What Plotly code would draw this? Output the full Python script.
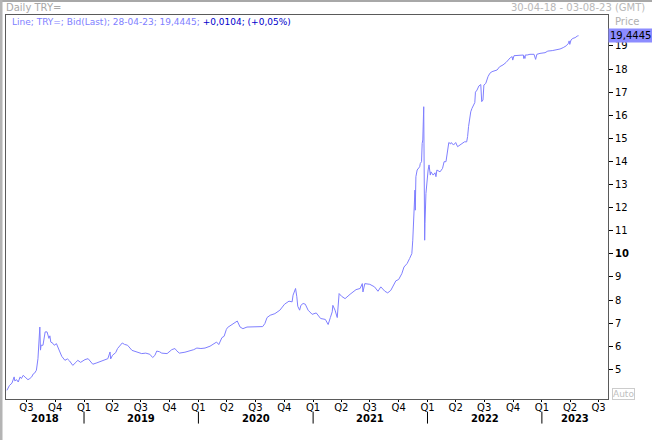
import plotly.graph_objects as go
from datetime import date, timedelta

# ---- data ----
dates = [
    "2018-04-30", "2018-05-08", "2018-05-16", "2018-05-23", "2018-05-25", "2018-05-31",
    "2018-06-05", "2018-06-11", "2018-06-15", "2018-06-21", "2018-06-27", "2018-07-06",
    "2018-07-12", "2018-07-18", "2018-07-23", "2018-07-27", "2018-08-02", "2018-08-07",
    "2018-08-13", "2018-08-15", "2018-08-17", "2018-08-23", "2018-08-30", "2018-09-05",
    "2018-09-11", "2018-09-14", "2018-09-17", "2018-09-24", "2018-09-28", "2018-10-05",
    "2018-10-16", "2018-10-22", "2018-11-01", "2018-11-09", "2018-11-16", "2018-11-26",
    "2018-12-06", "2018-12-12", "2018-12-21", "2019-01-04", "2019-01-14", "2019-01-29",
    "2019-02-11", "2019-02-20", "2019-03-05", "2019-03-18", "2019-03-25", "2019-03-27",
    "2019-04-02", "2019-04-12", "2019-04-18", "2019-04-25", "2019-05-03", "2019-05-10",
    "2019-05-20", "2019-06-03", "2019-06-18", "2019-07-04", "2019-07-17", "2019-07-30",
    "2019-08-08", "2019-08-15", "2019-08-21", "2019-08-30", "2019-09-06", "2019-09-23",
    "2019-10-08", "2019-10-18", "2019-10-24", "2019-11-01", "2019-11-19", "2019-12-05",
    "2019-12-17", "2019-12-27", "2020-01-09", "2020-01-22", "2020-02-07", "2020-02-28",
    "2020-03-06", "2020-03-16", "2020-03-23", "2020-03-30", "2020-04-03", "2020-04-14",
    "2020-04-23", "2020-05-04", "2020-05-13", "2020-05-22", "2020-06-04", "2020-06-12",
    "2020-07-24", "2020-07-31", "2020-08-07", "2020-08-17", "2020-09-01", "2020-09-17",
    "2020-10-02", "2020-10-16", "2020-10-26", "2020-10-29", "2020-11-04", "2020-11-06",
    "2020-11-10", "2020-11-13", "2020-11-19", "2020-11-23", "2020-11-30", "2020-12-07",
    "2020-12-16", "2020-12-29", "2021-01-11", "2021-01-25", "2021-02-09", "2021-02-15",
    "2021-02-18", "2021-02-25", "2021-03-03", "2021-03-05", "2021-03-12", "2021-03-19",
    "2021-03-22", "2021-03-25", "2021-04-02", "2021-04-13", "2021-04-29", "2021-05-07",
    "2021-05-18", "2021-05-31", "2021-06-07", "2021-06-09", "2021-06-15", "2021-07-01",
    "2021-07-16", "2021-07-27", "2021-08-05", "2021-08-18", "2021-08-27", "2021-09-06",
    "2021-09-16", "2021-09-22", "2021-10-01", "2021-10-11", "2021-10-18", "2021-10-28",
    "2021-11-05", "2021-11-12", "2021-11-15", "2021-11-18", "2021-11-22", "2021-11-23",
    "2021-11-25", "2021-11-29", "2021-12-02", "2021-12-07", "2021-12-09", "2021-12-13",
    "2021-12-15", "2021-12-17", "2021-12-20", "2021-12-21", "2021-12-22", "2021-12-23",
    "2021-12-24", "2021-12-27", "2021-12-30", "2022-01-03", "2022-01-06", "2022-01-10",
    "2022-01-12", "2022-01-19", "2022-01-25", "2022-01-28", "2022-01-31", "2022-02-10",
    "2022-02-18", "2022-02-23", "2022-03-01", "2022-03-04", "2022-03-07", "2022-03-10",
    "2022-03-16", "2022-03-18", "2022-03-25", "2022-04-01", "2022-04-07", "2022-04-14",
    "2022-04-22", "2022-04-29", "2022-05-06", "2022-05-09", "2022-05-12", "2022-05-16",
    "2022-05-19", "2022-05-23", "2022-05-30", "2022-06-01", "2022-06-03", "2022-06-08",
    "2022-06-14", "2022-06-20", "2022-06-23", "2022-06-27", "2022-06-30", "2022-07-06",
    "2022-07-13", "2022-07-19", "2022-07-26", "2022-08-04", "2022-08-11", "2022-08-19",
    "2022-08-30", "2022-09-09", "2022-09-15", "2022-09-22", "2022-09-28", "2022-09-30",
    "2022-10-04", "2022-10-14", "2022-10-24", "2022-10-31", "2022-11-03", "2022-11-04",
    "2022-11-07", "2022-11-08", "2022-11-09", "2022-11-15", "2022-11-24", "2022-12-07",
    "2022-12-12", "2022-12-16", "2022-12-26", "2023-01-11", "2023-01-20", "2023-02-03",
    "2023-02-15", "2023-02-28", "2023-03-10", "2023-03-20", "2023-03-27", "2023-03-29",
    "2023-03-31", "2023-04-04", "2023-04-10", "2023-04-17", "2023-04-24", "2023-04-28",
]
values = [
    4.09, 4.30, 4.40, 4.67, 4.50, 4.55,
    4.45, 4.67, 4.60, 4.74, 4.66, 4.55,
    4.60, 4.67, 4.80, 4.83, 4.96, 5.46,
    6.83, 5.83, 6.04, 6.04, 6.62, 6.62,
    6.34, 6.45, 6.18, 6.12, 6.04, 6.11,
    5.75, 5.56, 5.39, 5.45, 5.36, 5.17,
    5.30, 5.39, 5.30, 5.42, 5.46, 5.22,
    5.28, 5.32, 5.40, 5.46, 5.75, 5.45,
    5.61, 5.72, 5.90, 6.00, 6.14, 6.08,
    6.04, 5.82, 5.75, 5.68, 5.70, 5.65,
    5.51, 5.60, 5.79, 5.76, 5.70, 5.68,
    5.85, 5.90, 5.80, 5.70, 5.74, 5.79,
    5.85, 5.92, 5.90, 5.92, 6.00, 6.18,
    6.07, 6.37, 6.43, 6.72, 6.81, 6.91,
    6.98, 7.09, 6.83, 6.76, 6.83, 6.83,
    6.85, 6.98, 7.24, 7.34, 7.41, 7.56,
    7.82, 7.95, 7.92, 8.21, 8.42, 8.50,
    8.14, 7.73, 7.56, 7.77, 7.85, 7.82,
    7.56, 7.38, 7.44, 7.20, 7.16, 6.98,
    6.94, 7.24, 7.49, 7.77, 7.56, 7.24,
    7.92, 8.28, 8.16, 8.06, 8.25, 8.35,
    8.45, 8.50, 8.71, 8.35, 8.71, 8.68,
    8.57, 8.38, 8.57, 8.38, 8.31, 8.42,
    8.64, 8.83, 8.89, 9.14, 9.43, 9.58,
    9.80, 10.01, 10.59, 11.31, 12.76, 11.89,
    13.34, 13.63, 13.70, 13.77, 13.91, 13.99,
    14.78, 14.93, 16.37, 14.90, 12.04, 10.59,
    11.31, 12.61, 13.20, 13.63, 13.85, 13.41,
    13.55, 13.41, 13.51, 13.34, 13.63, 13.55,
    13.70, 13.99, 13.99, 14.28, 14.64, 14.82,
    14.76, 14.82, 14.71, 14.82, 14.64, 14.71,
    14.76, 14.85, 14.85, 15.08, 15.51, 15.91,
    16.15, 16.30, 16.52, 16.55, 17.00, 17.09,
    17.27, 17.33, 16.59, 16.66, 17.31, 17.38,
    17.67, 17.82, 17.89, 17.93, 17.96, 18.10,
    18.18, 18.29, 18.39, 18.49, 18.54, 18.39,
    18.58, 18.58, 18.61, 18.58, 18.61, 18.46,
    18.55, 18.46, 18.61, 18.61, 18.64, 18.64,
    18.42, 18.64, 18.68, 18.71, 18.78, 18.80,
    18.83, 18.87, 18.93, 19.01, 19.12, 19.22,
    19.07, 19.26, 19.33, 19.36, 19.43, 19.4445,
]

quarter_ticks = [
    "2018-07-01", "2018-10-01",
    "2019-01-01", "2019-04-01", "2019-07-01", "2019-10-01",
    "2020-01-01", "2020-04-01", "2020-07-01", "2020-10-01",
    "2021-01-01", "2021-04-01", "2021-07-01", "2021-10-01",
    "2022-01-01", "2022-04-01", "2022-07-01", "2022-10-01",
    "2023-01-01", "2023-04-01", "2023-07-01",
]
quarter_labels = [
    "Q3", "Q4",
    "Q1", "Q2", "Q3", "Q4",
    "Q1", "Q2", "Q3", "Q4",
    "Q1", "Q2", "Q3", "Q4",
    "Q1", "Q2", "Q3", "Q4",
    "Q1", "Q2", "Q3",
]
years = [2018, 2019, 2020, 2021, 2022, 2023]
price_ticks = [5, 6, 7, 8, 9, 10, 11, 12, 13, 14, 15, 16, 17, 18, 19]
price_labels = [("<b>%d</b>" % v) if v == 10 else str(v) for v in price_ticks]
x_range = ["2018-04-27", "2023-07-31"]
y_range = [3.714, 20.342]

last_value_text = "19,4445"
header_text = "Daily TRY="
period_text = "30-04-18 - 03-08-23 (GMT)"
legend_main = "Line; TRY=; Bid(Last); 28-04-23; 19,4445; "
legend_change = "+0,0104; (+0,05%)"

LINE_COLOR = "#7f7fff"
FONT = "DejaVu Sans"

fig = go.Figure()
fig.add_trace(go.Scatter(
    x=dates, y=values, mode="lines",
    line=dict(color=LINE_COLOR, width=1),
    hoverinfo="skip", showlegend=False,
))

# year separators and centred year labels
r0 = date.fromisoformat(x_range[0])
r1 = date.fromisoformat(x_range[1])
shapes = []
annotations = []
for yr in years:
    start = max(r0, date(yr, 1, 1))
    end = min(r1, date(yr + 1, 1, 1))
    mid = start + (end - start) / 2
    annotations.append(dict(
        x=mid.isoformat(), xref="x", y=-0.05, yref="paper",
        text="<b>%d</b>" % yr, showarrow=False,
        font=dict(family=FONT, size=10, color="#000000"),
        xanchor="center", yanchor="middle",
    ))
    if yr != years[0]:
        shapes.append(dict(
            type="line", xref="x", yref="paper",
            x0=date(yr, 1, 1).isoformat(), x1=date(yr, 1, 1).isoformat(),
            y0=-0.033, y1=-0.064,
            line=dict(color="#000000", width=1),
        ))

# outer window frame (light grey)
shapes.append(dict(type="line", xref="paper", yref="paper",
                   x0=-0.02, x1=1.1, y0=1.0365, y1=1.0365,
                   line=dict(color="#a8a8a8", width=2)))
shapes.append(dict(type="line", xref="paper", yref="paper",
                   x0=-0.0083, x1=-0.0083, y0=-0.12, y1=1.04,
                   line=dict(color="#b4b4b4", width=3)))

# texts
annotations += [
    dict(x=-0.0033, y=1.0208, xref="paper", yref="paper", text=header_text,
         showarrow=False, xanchor="left", yanchor="middle",
         font=dict(family=FONT, size=10, color="#a8a8a8")),
    dict(x=1.0648, y=1.0185, xref="paper", yref="paper", text=period_text,
         showarrow=False, xanchor="right", yanchor="middle",
         font=dict(family=FONT, size=10, color="#b8b8b8")),
    dict(x=1, xshift=5, y=0.982, xref="paper", yref="paper", text="Price",
         showarrow=False, xanchor="left", yanchor="middle",
         font=dict(family=FONT, size=10, color="#b0b0b0")),
    dict(x=0.0066, y=0.982, xref="paper", yref="paper",
         text='<span style="color:#8080ff">%s</span><span style="color:#0000cc">%s</span>'
              % (legend_main, legend_change),
         showarrow=False, xanchor="left", yanchor="middle",
         font=dict(family=FONT, size=9, color="#8080ff")),
    dict(x=1, xshift=0, y=values[-1], xref="paper", yref="y", text=last_value_text,
         showarrow=False, xanchor="left", yanchor="middle",
         bgcolor="#8c8cff", borderpad=1,
         font=dict(family=FONT, size=10, color="#000000")),
    dict(x=1, xshift=4, y=0.013, xref="paper", yref="paper", text="Auto",
         showarrow=False, xanchor="left", yanchor="middle",
         bordercolor="#cccccc", borderwidth=1, borderpad=0,
         font=dict(family=FONT, size=9, color="#c0c0c0")),
]

fig.update_layout(
    width=652, height=440,
    margin=dict(l=6, r=44, t=15, b=41, autoexpand=False),
    paper_bgcolor="#ffffff", plot_bgcolor="#ffffff",
    font=dict(family=FONT, size=10, color="#000000"),
    shapes=shapes, annotations=annotations,
    showlegend=False,
)
fig.update_xaxes(
    type="date", range=x_range,
    tickvals=quarter_ticks, ticktext=quarter_labels,
    ticks="outside", ticklen=2, tickcolor="#000000",
    tickfont=dict(family=FONT, size=10, color="#000000"),
    ticklabelstandoff=-3,
    showgrid=False, zeroline=False,
    showline=True, mirror=True, linecolor="#5a5a5a", linewidth=1,
)
fig.update_yaxes(
    side="right", range=y_range,
    tickvals=price_ticks, ticktext=price_labels,
    ticks="outside", ticklen=4, tickcolor="#000000",
    tickfont=dict(family=FONT, size=10, color="#000000"),
    showgrid=False, zeroline=False,
    showline=True, mirror=True, linecolor="#5a5a5a", linewidth=1,
)

fig.write_html(
    "out.html",
    config=dict(displayModeBar=False),
    post_script="document.body.style.margin='0';document.body.style.padding='0';",
)
